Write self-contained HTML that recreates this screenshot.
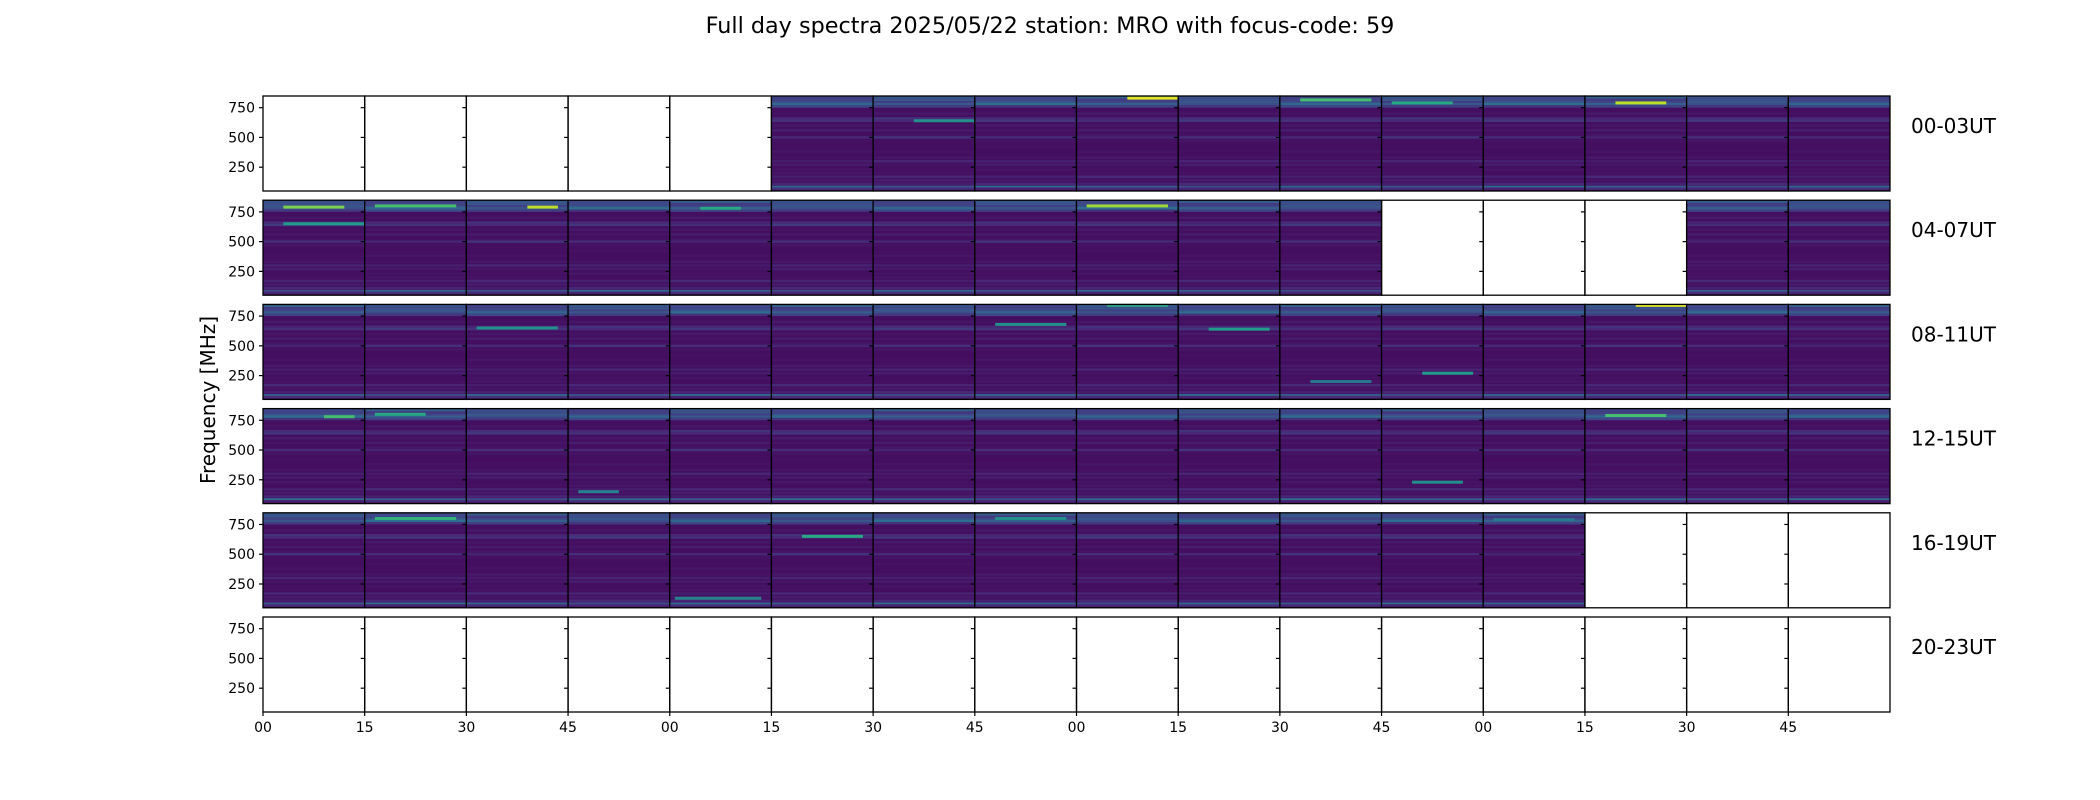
<!DOCTYPE html>
<html><head><meta charset="utf-8"><style>
html,body{margin:0;padding:0;background:#fff;}
svg{display:block;font-family:"DejaVu Sans","Liberation Sans",sans-serif;}
</style></head><body>
<svg id="fig" width="2100" height="800" viewBox="0 0 2100 800">
<text x="1050" y="33" text-anchor="middle" font-size="22.3">Full day spectra 2025/05/22 station: MRO with focus-code: 59</text>
<text transform="translate(215,400) rotate(-90)" text-anchor="middle" font-size="20">Frequency [MHz]</text>
<g id="panels"></g>
</svg>
<script>
// ---- data ----
const rowLabels = ["00-03UT","04-07UT","08-11UT","12-15UT","16-19UT","20-23UT"];
const xTickLabels = ["00","15","30","45","00","15","30","45","00","15","30","45","00","15","30","45"];
const yTicks = [250,500,750];
const freqMin = 50, freqMax = 848;
// 1 = spectrum recorded, 0 = empty panel
const filled = [
 [0,0,0,0,0,1,1,1,1,1,1,1,1,1,1,1],
 [1,1,1,1,1,1,1,1,1,1,1,0,0,0,1,1],
 [1,1,1,1,1,1,1,1,1,1,1,1,1,1,1,1],
 [1,1,1,1,1,1,1,1,1,1,1,1,1,1,1,1],
 [1,1,1,1,1,1,1,1,1,1,1,1,1,0,0,0],
 [0,0,0,0,0,0,0,0,0,0,0,0,0,0,0,0]
];
// common persistent bands: frequency [MHz], normalized intensity
const bandFreqs = [835,815,795,780,760,700,660,640,600,560,520,500,470,420,380,330,300,270,230,200,170,140,110,85,70];
const bandLevels = [0.25,0.22,0.24,0.3,0.18,0.06,0.12,0.14,0.06,0.07,0.05,0.12,0.05,0.04,0.05,0.06,0.09,0.07,0.05,0.05,0.1,0.07,0.1,0.3,0.12];
// panel-specific bright features: row, col, freq, intensity, startFrac, endFrac
const hlRow = [0,0,0,0,0,1,1,1,1,1,1,2,2,2,2,2,2,3,3,3,3,4,4,4,4,2,3,4];
const hlCol = [8,10,11,13,6,0,1,2,0,4,8,8,9,13,7,11,10,0,13,11,3,1,5,4,7,2,1,12];
const hlFreq= [830,815,790,790,640,790,800,790,650,780,800,840,640,840,680,270,200,780,790,230,150,800,650,130,800,650,800,790];
const hlInt = [0.95,0.7,0.6,0.9,0.5,0.8,0.7,0.9,0.55,0.6,0.85,0.6,0.55,0.95,0.5,0.55,0.4,0.7,0.7,0.5,0.45,0.65,0.6,0.45,0.5,0.5,0.6,0.4];
const hlStart=[0.5,0.2,0.1,0.3,0.4,0.2,0.1,0.6,0.2,0.3,0.1,0.3,0.3,0.5,0.2,0.4,0.3,0.6,0.2,0.3,0.1,0.1,0.3,0.05,0.2,0.1,0.1,0.1];
const hlEnd  =[1.0,0.9,0.7,0.8,1.0,0.8,0.9,0.9,1.0,0.7,0.9,0.9,0.9,1.0,0.9,0.9,0.9,0.9,0.8,0.8,0.5,0.9,0.9,0.9,0.9,0.9,0.6,0.9];

// ---- layout ----
const X0 = 263, X1 = 1890, Y0 = 96, ROWP = 104.2, H = 95;
const W = (X1 - X0) / 16;
function xPos(col){ return X0 + col * W; }
function yPos(row, f){ return Y0 + row*ROWP + (freqMax - f) / (freqMax - freqMin) * H; }
const stops = [[68,1,84],[72,40,120],[62,73,137],[49,104,142],[38,130,142],[31,158,137],[53,183,121],[110,206,88],[181,222,43],[253,231,37]];
function viridis(t){
  t = Math.max(0, Math.min(1, t)) * (stops.length - 1);
  const i = Math.min(Math.floor(t), stops.length - 2), f = t - i;
  const c = stops[i].map((v,k)=>Math.round(v + (stops[i+1][k]-v)*f));
  return "rgb(" + c.join(",") + ")";
}
const NS = "http://www.w3.org/2000/svg";
const g = document.getElementById("panels");
function mk(tag, attrs, parent){
  const e = document.createElementNS(NS, tag);
  for (const k in attrs) e.setAttribute(k, attrs[k]);
  (parent || g).appendChild(e); return e;
}
for (let r = 0; r < 6; r++){
  const rowG = mk("g", {});
  
  
  const top = Y0 + r*ROWP;
  for (let c = 0; c < 16; c++){
    const px = xPos(c);
    const pg = mk("g", {}, rowG);
    
    
    if (filled[r][c]){
      mk("rect", {x:px, y:top, width:W, height:H, fill:viridis(0.04)}, pg);
      for (let b = 0; b < bandFreqs.length; b++){
        const lv = bandLevels[b] * (0.8 + 0.4*((r*7 + c*3 + b) % 5)/4);
        const band = mk("rect", {x:px, y:yPos(r, bandFreqs[b]) - 1.2, width:W, height:2.4, fill:viridis(lv)}, pg);
        
        
      }
      for (let h = 0; h < hlRow.length; h++){
        if (hlRow[h] !== r || hlCol[h] !== c) continue;
        const hl = mk("rect", {x:px + hlStart[h]*W, y:yPos(r, hlFreq[h]) - 1.5, width:(hlEnd[h]-hlStart[h])*W, height:3, fill:viridis(hlInt[h])}, pg);
        
        
      }
    }
    mk("rect", {x:px, y:top, width:W, height:H, fill:"none", stroke:"#000", "stroke-width":1.3}, pg);
    for (const t of yTicks){
      const yy = yPos(r, t);
      mk("line", {x1:px-4, x2:px, y1:yy, y2:yy, stroke:"#000", "stroke-width":1.2}, pg);
      if (c === 0){
        const tl = mk("text", {x:px-8, y:yy+5, "text-anchor":"end", "font-size":14}, pg);
        tl.textContent = t;
        
        
      }
    }
    if (r === 5){
      mk("line", {x1:px, x2:px, y1:top+H, y2:top+H+4, stroke:"#000", "stroke-width":1.2}, pg);
      const xl = mk("text", {x:px, y:top+H+20, "text-anchor":"middle", "font-size":14}, pg);
      xl.textContent = xTickLabels[c];
      
      
    }
  }
  const lab = mk("text", {x:1911, y:top+37, "font-size":20}, rowG);
  lab.textContent = rowLabels[r];
  
  
}
</script>
</body></html>
